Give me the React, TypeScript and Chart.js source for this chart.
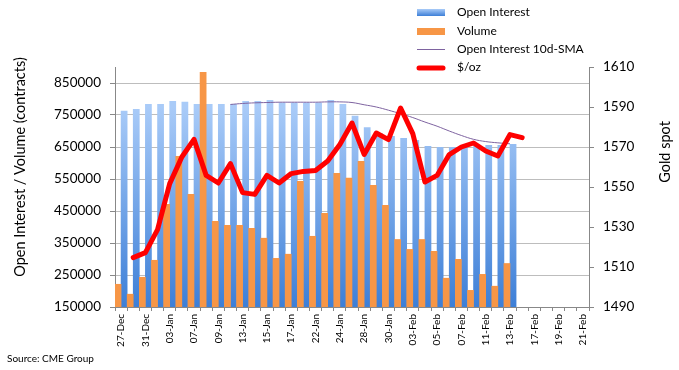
import React, { useEffect, useRef } from 'react';
import { Chart, registerables } from 'chart.js';

Chart.register(...registerables);

const categories = [
  '27-Dec', '30-Dec', '31-Dec', '02-Jan', '03-Jan', '06-Jan', '07-Jan', '08-Jan', '09-Jan', '10-Jan',
  '13-Jan', '14-Jan', '15-Jan', '16-Jan', '17-Jan', '21-Jan', '22-Jan', '23-Jan', '24-Jan', '27-Jan',
  '28-Jan', '29-Jan', '30-Jan', '31-Jan', '03-Feb', '04-Feb', '05-Feb', '06-Feb', '07-Feb', '10-Feb',
  '11-Feb', '12-Feb', '13-Feb', '14-Feb', '17-Feb', '18-Feb', '19-Feb', '20-Feb', '21-Feb',
];

const openInterest = [
  762000, 768000, 783000, 783000, 793000, 790000, 783000, 783000, 783000, 783000,
  793000, 793000, 796000, 788000, 788000, 788000, 788000, 796000, 783000, 747000,
  711000, 693000, 683000, 677000, 671000, 652000, 649000, 649000, 649000, 652000,
  655000, 655000, 658000,
];

const volume = [
  221000, 190000, 243000, 296000, 471000, 621000, 502000, 883000, 418000, 405000,
  405000, 396000, 365000, 302000, 315000, 543000, 371000, 443000, 568000, 553000,
  605000, 530000, 468000, 361000, 330000, 361000, 324000, 240000, 299000, 202000,
  252000, 215000, 286000,
];

const oiSma = [
  null, null, null, null, null, null, null, null, null, 783000,
  786000, 788000, 789000, 790000, 790000, 790000, 790000, 791000, 791000, 789000,
  782000, 775000, 765000, 754000, 742000, 728000, 715000, 700000, 686000, 674000,
  667000, 663000, 660000,
];

const goldSpot = [
  null, 1514.7, 1517.2, 1528.7, 1551.7, 1565.0, 1573.8, 1555.8, 1552.0, 1561.7,
  1547.2, 1546.3, 1555.8, 1552.0, 1556.7, 1557.8, 1558.3, 1563.0, 1571.2, 1582.0,
  1566.3, 1577.0, 1573.7, 1589.5, 1576.7, 1552.5, 1555.8, 1566.2, 1570.0, 1572.0,
  1568.0, 1565.5, 1576.2, 1574.7,
];

const leftTicks = [150000, 250000, 350000, 450000, 550000, 650000, 750000, 850000];
const rightTicks = [1490, 1510, 1530, 1550, 1570, 1590, 1610];

const legendLabels = ['Open Interest', 'Volume', 'Open Interest 10d-SMA', '$/oz'];
const leftTitle = 'Open Interest / Volume (contracts)';
const rightTitle = 'Gold spot';
const sourceText = 'Source: CME Group';

const FONT = 'Lato, "Open Sans", sans-serif';
const BLUE_TOP = '#a9cbf8';
const BLUE_BOTTOM = '#3d7fd7';
const ORANGE = '#f79646';
const PURPLE = '#7e63a0';
const RED = '#ff0000';

function blueGradient(ctx: CanvasRenderingContext2D, top: number, bottom: number) {
  const g = ctx.createLinearGradient(0, top, 0, bottom);
  g.addColorStop(0, BLUE_TOP);
  g.addColorStop(1, BLUE_BOTTOM);
  return g;
}

const decorPlugin = {
  id: 'decor',
  afterDraw(chart: any) {
    const ctx: CanvasRenderingContext2D = chart.ctx;
    ctx.save();
    // Legend
    const sx = 417;
    const sw = 28;
    const tx = 457;
    const rows = [12, 31, 49, 67];
    ctx.font = `12px ${FONT}`;
    ctx.textBaseline = 'middle';
    ctx.textAlign = 'left';
    ctx.fillStyle = blueGradient(ctx, rows[0] - 3, rows[0] + 4) as any;
    ctx.fillRect(sx, rows[0] - 3, sw, 7);
    ctx.fillStyle = ORANGE;
    ctx.fillRect(sx, rows[1] - 3, sw, 7);
    ctx.strokeStyle = PURPLE;
    ctx.lineWidth = 1;
    ctx.beginPath();
    ctx.moveTo(sx, rows[2] + 0.5);
    ctx.lineTo(sx + sw, rows[2] + 0.5);
    ctx.stroke();
    ctx.strokeStyle = RED;
    ctx.lineWidth = 5;
    ctx.lineCap = 'round';
    ctx.beginPath();
    ctx.moveTo(sx + 2, rows[3] + 1);
    ctx.lineTo(sx + sw - 2, rows[3] + 1);
    ctx.stroke();
    ctx.fillStyle = '#000';
    legendLabels.forEach((l, i) => ctx.fillText(l, tx, rows[i]));

    // Axis titles
    ctx.font = `14.5px ${FONT}`;
    ctx.textAlign = 'center';
    ctx.save();
    ctx.translate(20, 167);
    ctx.rotate(-Math.PI / 2);
    ctx.fillText(leftTitle, 0, 0);
    ctx.restore();
    ctx.save();
    ctx.translate(665, 152);
    ctx.rotate(-Math.PI / 2);
    ctx.fillText(rightTitle, 0, 0);
    ctx.restore();

    // Source
    ctx.font = `10px ${FONT}`;
    ctx.textAlign = 'left';
    ctx.fillText(sourceText, 7, 359);
    ctx.restore();
  },
};

export default function App() {
  const ref = useRef<HTMLCanvasElement>(null);

  useEffect(() => {
    if (!ref.current) return;
    const chart = new Chart(ref.current, {
      type: 'bar',
      data: {
        labels: categories,
        datasets: [
          {
            type: 'line',
            label: legendLabels[3],
            data: goldSpot,
            yAxisID: 'y1',
            borderColor: RED,
            borderWidth: 5,
            borderJoinStyle: 'round',
            borderCapStyle: 'round',
            pointRadius: 0,
            tension: 0,
            spanGaps: false,
            order: 0,
          } as any,
          {
            type: 'line',
            label: legendLabels[2],
            data: oiSma,
            yAxisID: 'y',
            borderColor: PURPLE,
            borderWidth: 1,
            pointRadius: 0,
            tension: 0.4,
            order: 1,
          } as any,
          {
            type: 'bar',
            label: legendLabels[0],
            data: openInterest,
            yAxisID: 'y',
            backgroundColor: (c: any) => {
              const ca = c.chart.chartArea;
              if (!ca) return BLUE_BOTTOM;
              return blueGradient(c.chart.ctx, ca.top + 40, ca.bottom);
            },
            categoryPercentage: 1,
            barPercentage: 1,
            order: 3,
          },
          {
            type: 'bar',
            label: legendLabels[1],
            data: volume,
            yAxisID: 'y',
            backgroundColor: ORANGE,
            categoryPercentage: 1,
            barPercentage: 1,
            order: 2,
          },
        ],
      },
      options: {
        animation: false,
        responsive: false,
        maintainAspectRatio: false,
        layout: { padding: { top: 67, left: 0, right: 0, bottom: 0 } },
        plugins: {
          legend: { display: false },
          tooltip: { enabled: false },
        },
        scales: {
          x: {
            offset: true,
            grid: {
              display: true,
              offset: true,
              drawOnChartArea: false,
              drawTicks: true,
              tickLength: 4,
              color: '#888',
            },
            border: { color: '#888', width: 1 },
            ticks: {
              autoSkip: false,
              maxRotation: 90,
              minRotation: 90,
              padding: 3,
              color: '#000',
              font: { family: FONT, size: 10 },
              callback: (_v: any, i: number) => (i % 2 === 0 ? categories[i] : ''),
            },
            afterFit: (s: any) => { s.height = 370 - 307; },
          },
          y: {
            position: 'left',
            min: 150000,
            max: 900000,
            afterBuildTicks: (s: any) => { s.ticks = leftTicks.map((v) => ({ value: v })); },
            grid: {
              color: '#bdbdbd',
              borderDash: [3, 3],
              tickLength: 5,
              tickColor: '#888',
              tickBorderDash: [],
            } as any,
            border: { color: '#888', width: 1 },
            ticks: {
              padding: 9,
              color: '#000',
              font: { family: FONT, size: 13.5 },
              callback: (v: any) => String(v),
            },
            afterFit: (s: any) => { s.width = 115; },
          },
          y1: {
            position: 'right',
            min: 1490,
            max: 1610,
            afterBuildTicks: (s: any) => { s.ticks = rightTicks.map((v) => ({ value: v })); },
            grid: { drawOnChartArea: false, tickLength: 5, color: '#888' },
            border: { color: '#888', width: 1 },
            ticks: {
              padding: 9,
              color: '#000',
              font: { family: FONT, size: 13.5 },
              callback: (v: any) => String(v),
            },
            afterFit: (s: any) => { s.width = 679 - 589; },
          },
        },
      },
      plugins: [decorPlugin],
    } as any);
    return () => chart.destroy();
  }, []);

  return (
    <div style={{ position: 'fixed', left: 0, top: 0, width: 679, height: 370, background: '#fff' }}>
      <canvas ref={ref} width={679} height={370} style={{ width: 679, height: 370, display: 'block' }} />
    </div>
  );
}
